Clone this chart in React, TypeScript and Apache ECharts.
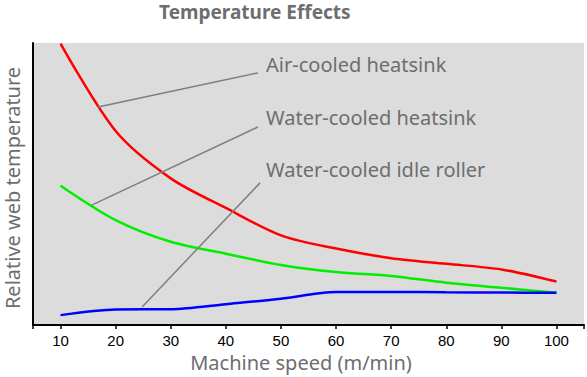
import React, { useEffect, useRef } from "react";
import * as echarts from "echarts";

const titleText = "Temperature Effects";
const xAxisName = "Machine speed (m/min)";
const yAxisName = "Relative web temperature";

const speeds = [10, 20, 30, 40, 50, 60, 70, 80, 90, 100];
const airCooled = [99.8, 68.8, 52.0, 41.5, 31.8, 27.1, 23.7, 21.7, 19.7, 15.4];
const waterCooled = [49.4, 37.2, 29.5, 25.3, 21.3, 18.8, 17.4, 15.0, 13.2, 11.45];
const idleRoller = [3.5, 5.5, 5.6, 7.4, 9.3, 11.7, 11.7, 11.6, 11.5, 11.45];

const tickValues = [5, 10, 20, 30, 40, 50, 60, 70, 80, 90, 100, 105];
const labelValues = [10, 20, 30, 40, 50, 60, 70, 80, 90, 100];

const annotationLabels = ["Air-cooled heatsink", "Water-cooled heatsink", "Water-cooled idle roller"];
const leaderStart = [[16.8, 77.3], [15.65, 42.5], [24.8, 6.4]];
const leaderEnd = [[45.8, 89.4], [45.8, 70.2], [46.2, 50.4]];
const labelAnchor = [[47.3, 92.3], [47.3, 73.6], [47.3, 55.1]];

const gray = "#6d6e70";
const font = "'Noto Sans', 'Open Sans', sans-serif";

export default function App() {
  const ref = useRef<HTMLDivElement>(null);
  useEffect(() => {
    if (!ref.current) return;
    const chart = echarts.init(ref.current, undefined, { renderer: "svg" });
    const mk = (name: string, data: number[], color: string) => ({
      name,
      type: "line",
      data: speeds.map((s, i) => [s, data[i]]),
      smooth: 0.3,
      showSymbol: false,
      symbol: "none",
      lineStyle: { color, width: 2.5 },
      z: 3,
    });
    chart.setOption({
      animation: false,
      backgroundColor: "#ffffff",
      title: {
        text: titleText,
        left: 159,
        top: 2,
        padding: 0,
        textStyle: { color: gray, fontSize: 19, fontWeight: "bold", fontFamily: font },
      },
      grid: {
        left: 33,
        right: 3,
        top: 43,
        bottom: 52,
        show: true,
        backgroundColor: "#dcdcdc",
        borderWidth: 0,
        containLabel: false,
        outerBoundsMode: "none",
      },
      xAxis: {
        type: "value",
        min: 5,
        max: 105,
        name: xAxisName,
        nameLocation: "middle",
        nameGap: 27,
        nameTextStyle: { color: gray, fontSize: 20, fontFamily: font, padding: [0, 15, 0, 0] },
        axisLine: { show: true, lineStyle: { color: "#000", width: 2 } },
        axisTick: { show: true, customValues: tickValues, length: 4, lineStyle: { color: "#000", width: 1.5 } },
        axisLabel: {
          customValues: labelValues,
          color: "#000",
          fontSize: 15,
          fontFamily: "'Liberation Sans', Arial, sans-serif",
          margin: 8,
        },
        splitLine: { show: false },
      },
      yAxis: {
        type: "value",
        min: 0,
        max: 100,
        name: yAxisName,
        nameLocation: "middle",
        nameGap: 11,
        nameTextStyle: { color: gray, fontSize: 20, fontFamily: font, padding: [0, 8, 0, 0] },
        axisLine: { show: true, lineStyle: { color: "#000", width: 2 } },
        axisTick: { show: false },
        axisLabel: { show: false },
        splitLine: { show: false },
      },
      series: [
        mk(annotationLabels[0], airCooled, "#ff0000"),
        mk(annotationLabels[1], waterCooled, "#00ee00"),
        mk(annotationLabels[2], idleRoller, "#0000ff"),
      ],
    });
    const px = (p: number[]) => chart.convertToPixel({ xAxisIndex: 0, yAxisIndex: 0 }, p) as number[];
    const graphics: any[] = [];
    annotationLabels.forEach((label, i) => {
      const a = px(leaderStart[i]);
      const b = px(leaderEnd[i]);
      const t = px(labelAnchor[i]);
      graphics.push({
        type: "line",
        shape: { x1: a[0], y1: a[1], x2: b[0], y2: b[1] },
        style: { stroke: "#7f7f7f", lineWidth: 1.5 },
        z: 10,
      });
      graphics.push({
        type: "text",
        x: t[0],
        y: t[1],
        style: {
          text: label,
          fill: gray,
          font: `20px ${font}`,
          textAlign: "left",
          textVerticalAlign: "middle",
          verticalAlign: "middle",
        },
        z: 10,
      });
    });
    chart.setOption({ graphic: graphics });
    return () => chart.dispose();
  }, []);
  return <div ref={ref} style={{ width: 587, height: 377, position: "absolute", left: 0, top: 0 }} />;
}
